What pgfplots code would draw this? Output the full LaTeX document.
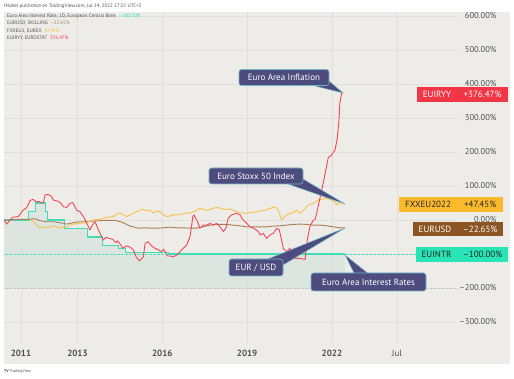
\documentclass[border=0pt]{standalone}
\usepackage{pgfplots}
\pgfplotsset{compat=1.18}
\usepackage{fontspec}
\setmainfont{PT Sans}
\definecolor{panebg}{RGB}{237,236,232}
\definecolor{gridc}{RGB}{224,223,219}
\definecolor{areafill}{RGB}{221,229,225}
\definecolor{tealline}{RGB}{64,222,182}
\definecolor{redline}{RGB}{240,72,84}
\definecolor{yelline}{RGB}{247,192,72}
\definecolor{brnline}{RGB}{170,126,86}
\definecolor{calbg}{RGB}{78,76,126}
\definecolor{calbd}{RGB}{110,186,196}
\definecolor{tagred}{RGB}{242,54,69}
\definecolor{tagyel}{RGB}{250,186,44}
\definecolor{tagbrn}{RGB}{139,86,36}
\definecolor{tagteal}{RGB}{40,228,182}
\definecolor{ticktxt}{RGB}{80,80,80}
\definecolor{hdrtxt}{RGB}{80,80,80}
\begin{document}
\begin{tikzpicture}
\fill[white] (0,0) rectangle (514pt,379pt);
\begin{axis}[
  at={(4pt,15pt)}, anchor=south west,
  width=506pt, height=352pt, scale only axis,
  xmin=2010.4, xmax=2028.3, ymin=-423.5, ymax=611.8,
  axis background/.style={fill=panebg},
  axis line style={draw=none},
  major tick length=0pt,
  xtick={2011,2013,2016,2019,2022,2024.3},
  xticklabels={\textbf{2011},\textbf{2013},\textbf{2016},\textbf{2019},\textbf{2022},Jul},
  xticklabel style={anchor=center, yshift=11pt, font=\fontsize{9}{10}\selectfont, text=ticktxt},
  ytick={-300,-200,0,100,200,300,400,500,600},
  yticklabels={–300.00\%,–200.00\%,0.00\%,100.00\%,200.00\%,300.00\%,400.00\%,500.00\%,600.00\%},
  yticklabel pos=right,
  yticklabel style={anchor=east, xshift=-10pt, font=\fontsize{8.5}{10}\selectfont, text=ticktxt},
]
% interest-rate area
\addplot[fill=areafill, draw=none, forget plot] coordinates {
(2010.40,0) (2011.28,0) (2011.28,25) (2011.53,25) (2011.53,50) (2011.86,50) (2011.86,25) (2011.95,25) (2011.95,0) (2012.53,0) (2012.53,-25) (2013.35,-25) (2013.35,-50) (2013.87,-50) (2013.87,-75) (2014.44,-75) (2014.44,-85) (2014.69,-85) (2014.69,-95) (2016.21,-95) (2016.21,-100) (2022.46,-100) (2022.46,-200) (2010.40,-200)} -- cycle;
% grid
\draw[gridc, line width=0.6pt] (2010.4,600) -- (2026.42,600);
\draw[gridc, line width=0.6pt] (2010.4,500) -- (2026.42,500);
\draw[gridc, line width=0.6pt] (2010.4,400) -- (2026.42,400);
\draw[gridc, line width=0.6pt] (2010.4,300) -- (2026.42,300);
\draw[gridc, line width=0.6pt] (2010.4,200) -- (2026.42,200);
\draw[gridc, line width=0.6pt] (2010.4,100) -- (2026.42,100);
\draw[gridc, line width=0.6pt] (2010.4,0) -- (2026.42,0);
\draw[gridc, line width=0.6pt] (2010.4,-300) -- (2026.42,-300);
\draw[black!25, densely dotted, line width=0.6pt] (2010.4,-200) -- (2026.42,-200);
\draw[gridc, line width=0.6pt] (2011,611.8) -- (2011,-362);
\draw[gridc, line width=0.6pt] (2013,611.8) -- (2013,-362);
\draw[gridc, line width=0.6pt] (2016,611.8) -- (2016,-362);
\draw[gridc, line width=0.6pt] (2019,611.8) -- (2019,-362);
\draw[gridc, line width=0.6pt] (2022,611.8) -- (2022,-362);
\draw[gridc, line width=0.6pt] (2024.3,611.8) -- (2024.3,-362);
\draw[tealline, densely dotted, line width=0.6pt] (2010.4,-100) -- (2024.97,-100);
% Euro area interest rate
\addplot[tealline, line width=1.1pt] coordinates {
(2010.40,0) (2011.28,0) (2011.28,25) (2011.53,25) (2011.53,50) (2011.86,50) (2011.86,25) (2011.95,25) (2011.95,0) (2012.53,0) (2012.53,-25) (2013.35,-25) (2013.35,-50) (2013.87,-50) (2013.87,-75) (2014.44,-75) (2014.44,-85) (2014.69,-85) (2014.69,-95) (2016.21,-95) (2016.21,-100) (2022.46,-100)};
% EURUSD
\addplot[brnline, line width=0.9pt, line join=round] coordinates {
(2010.40,0) (2010.97,2) (2011.32,2) (2011.44,4) (2011.56,2) (2011.67,-2) (2011.91,-5) (2012.14,-5) (2012.38,-8) (2012.62,-12) (2012.85,-8) (2013.09,-5) (2013.33,-5) (2013.56,-3) (2013.80,-2) (2014.03,-1) (2014.27,-1) (2014.39,-2) (2014.50,-5) (2014.62,-8) (2014.74,-13) (2014.86,-18) (2014.98,-20) (2015.09,-23) (2015.21,-24) (2015.33,-23) (2015.56,-24) (2015.80,-24) (2016.04,-23) (2016.27,-21) (2016.51,-23) (2016.74,-23) (2016.98,-24) (2017.22,-24) (2017.45,-20) (2017.69,-15) (2017.92,-13) (2018.16,-13) (2018.27,-13) (2018.50,-15) (2018.73,-17) (2018.99,-20) (2019.22,-20) (2019.46,-20) (2019.69,-20) (2019.93,-18) (2020.16,-17) (2020.40,-15) (2020.63,-13) (2020.87,-12) (2021.11,-13) (2021.34,-15) (2021.58,-15) (2021.81,-17) (2022.05,-20) (2022.28,-23) (2022.46,-22.65)};
% Euro Stoxx 50
\addplot[yelline, line width=0.9pt, line join=round] coordinates {
(2011.32,0) (2011.44,-3) (2011.56,-15) (2011.67,-24) (2011.79,-20) (2011.91,-23) (2012.03,-20) (2012.14,-17) (2012.26,-20) (2012.38,-24) (2012.50,-20) (2012.62,-21) (2012.73,-15) (2012.85,-12) (2013.09,-10) (2013.33,-7) (2013.56,0) (2013.80,2) (2014.03,8) (2014.27,10) (2014.39,18) (2014.50,21) (2014.62,15) (2014.74,10) (2014.86,15) (2014.98,20) (2015.09,24) (2015.21,29) (2015.33,31) (2015.45,27) (2015.56,29) (2015.68,21) (2015.80,27) (2015.92,24) (2016.04,15) (2016.16,10) (2016.27,12) (2016.39,15) (2016.51,15) (2016.63,17) (2016.74,18) (2016.86,21) (2016.98,20) (2017.10,24) (2017.22,29) (2017.33,34) (2017.45,31) (2017.57,29) (2017.69,31) (2017.80,34) (2017.92,37) (2018.04,35) (2018.16,32) (2018.27,31) (2018.38,33) (2018.50,29) (2018.73,21) (2018.99,20) (2019.22,23) (2019.46,26) (2019.64,29) (2019.81,34) (2019.99,39) (2020.10,29) (2020.22,0) (2020.28,5) (2020.40,15) (2020.52,20) (2020.63,21) (2020.75,29) (2020.87,20) (2020.93,24) (2021.05,34) (2021.16,44) (2021.34,49) (2021.52,59) (2021.64,61) (2021.81,64) (2021.99,59) (2022.11,54) (2022.17,44) (2022.23,49) (2022.35,51) (2022.46,47.45)};
% Euro area inflation
\addplot[redline, line width=0.9pt, line join=round] coordinates {
(2010.40,0) (2010.50,-12) (2010.61,0) (2010.71,8) (2010.91,10) (2010.99,20) (2011.08,29) (2011.20,36) (2011.32,57) (2011.42,61) (2011.53,54) (2011.65,54) (2011.79,49) (2011.85,74) (2011.97,75) (2012.09,69) (2012.14,59) (2012.32,55) (2012.42,49) (2012.50,39) (2012.62,37) (2012.73,49) (2012.83,51) (2012.91,39) (2012.97,29) (2013.09,24) (2013.21,10) (2013.33,-10) (2013.44,-29) (2013.56,-10) (2013.62,-5) (2013.74,-29) (2013.83,-44) (2013.91,-59) (2014.01,-51) (2014.12,-54) (2014.25,-57) (2014.36,-67) (2014.41,-61) (2014.50,-70) (2014.60,-83) (2014.74,-76) (2014.86,-80) (2014.98,-88) (2015.07,-108) (2015.19,-120) (2015.28,-113) (2015.33,-108) (2015.39,-69) (2015.50,-64) (2015.62,-76) (2015.74,-83) (2015.86,-88) (2015.98,-93) (2016.04,-86) (2016.10,-93) (2016.18,-106) (2016.27,-106) (2016.39,-108) (2016.51,-103) (2016.63,-93) (2016.74,-83) (2016.86,-74) (2016.98,-49) (2017.04,-15) (2017.08,10) (2017.12,15) (2017.22,0) (2017.27,-10) (2017.33,-24) (2017.45,-15) (2017.57,-15) (2017.69,-10) (2017.80,-15) (2017.92,-10) (2018.04,-20) (2018.16,-34) (2018.25,-24) (2018.33,5) (2018.45,15) (2018.63,20) (2018.75,15) (2018.86,0) (2018.99,-10) (2019.10,-20) (2019.22,-24) (2019.40,-34) (2019.46,-44) (2019.57,-39) (2019.69,-54) (2019.81,-44) (2019.93,-39) (2020.05,-24) (2020.14,-29) (2020.22,-59) (2020.28,-83) (2020.40,-93) (2020.46,-88) (2020.52,-83) (2020.58,-108) (2020.69,-113) (2020.87,-113) (2021.05,-116) (2021.13,-59) (2021.22,-20) (2021.34,0) (2021.40,0) (2021.46,20) (2021.58,65) (2021.69,108) (2021.81,157) (2021.87,184) (2021.99,191) (2022.11,206) (2022.19,240) (2022.25,294) (2022.28,343) (2022.34,371) (2022.38,376.47)};
\end{axis}
\begin{scope}[x=1pt,y=1pt]
% header
\node[anchor=west, inner sep=0pt, font=\fontsize{5}{6}\selectfont, text=hdrtxt] at (4,373) {JNobel published on TradingView.com, Jul 14, 2022 17:22 UTC+3};
\node[anchor=west, inner sep=0pt, font=\fontsize{5}{6}\selectfont, text=hdrtxt] at (7,363) {Euro Area Interest Rate, 1D, European Central Bank\ \ \textcolor{tagteal}{–100.00\%}};
\node[anchor=west, inner sep=0pt, font=\fontsize{5}{6}\selectfont, text=hdrtxt] at (7,355.5) {EURUSD, SKILLING\ \ \textcolor{brnline}{–22.65\%}};
\node[anchor=west, inner sep=0pt, font=\fontsize{5}{6}\selectfont, text=hdrtxt] at (7,348) {FXXEU1, EUREX\ \ \textcolor{tagyel}{47.45\%}};
\node[anchor=west, inner sep=0pt, font=\fontsize{5}{6}\selectfont, text=hdrtxt] at (7,340.5) {EUIRYY, EUROSTAT\ \ \textcolor{tagred}{376.47\%}};
\node[anchor=west, inner sep=0pt, font=\fontsize{4}{5}\selectfont, text=black!70] at (4,7) {\textbf{TV} TradingView};
% callouts
\tikzset{callout/.style={fill=calbg, draw=calbd, line width=0.6pt, rounded corners=2.5pt, text=white, inner sep=0pt, font=\fontsize{9}{10}\selectfont}}
\filldraw[fill=calbg, draw=calbd, line width=0.5pt] (315,293) -- (343,286) -- (329,298) -- cycle;
\node[callout, minimum width=90pt, minimum height=16pt] at (284,301.5) {Euro Area Inflation};
\filldraw[fill=calbg, draw=calbd, line width=0.5pt] (288,195) -- (345,175) -- (303,200) -- cycle;
\node[callout, minimum width=94pt, minimum height=16pt] at (256,203) {Euro Stoxx 50 Index};
\filldraw[fill=calbg, draw=calbd, line width=0.5pt] (268,120) -- (345,151) -- (283,114) -- cycle;
\node[callout, minimum width=54pt, minimum height=17pt] at (256,111.5) {EUR / USD};
\filldraw[fill=calbg, draw=calbd, line width=0.5pt] (357,100) -- (345,124) -- (375,100) -- cycle;
\node[callout, minimum width=115pt, minimum height=18pt] at (368.5,97) {Euro Area Interest Rates};
% tags
\tikzset{tagtxt/.style={inner sep=0pt, font=\fontsize{9}{10}\selectfont}}
\fill[tagred] (417,277) rectangle (456.7,292);
\fill[tagred] (457.3,277) rectangle (508,292);
\node[tagtxt, text=white] at (437,284.5) {EUIRYY};
\node[tagtxt, text=white] at (482.6,284.5) {+376.47\%};
\fill[tagyel] (399,167) rectangle (456.7,182);
\fill[tagyel] (457.3,167) rectangle (503,182);
\node[tagtxt, text=black!85] at (428,174.5) {FXXEU2022};
\node[tagtxt, text=black!85] at (480.2,174.5) {+47.45\%};
\fill[tagbrn] (413,143) rectangle (456.7,157);
\fill[tagbrn] (457.3,143) rectangle (503,157);
\node[tagtxt, text=white] at (435,150) {EURUSD};
\node[tagtxt, text=white] at (480.2,150) {–22.65\%};
\fill[tagteal] (416,117) rectangle (456.7,132);
\fill[tagteal] (457.3,117) rectangle (508,132);
\node[tagtxt, text=black!85] at (436.5,124.5) {EUINTR};
\node[tagtxt, text=black!85] at (482.6,124.5) {–100.00\%};
\end{scope}
\path[use as bounding box] (0,0) rectangle (514pt,379pt);
\end{tikzpicture}
\end{document}
